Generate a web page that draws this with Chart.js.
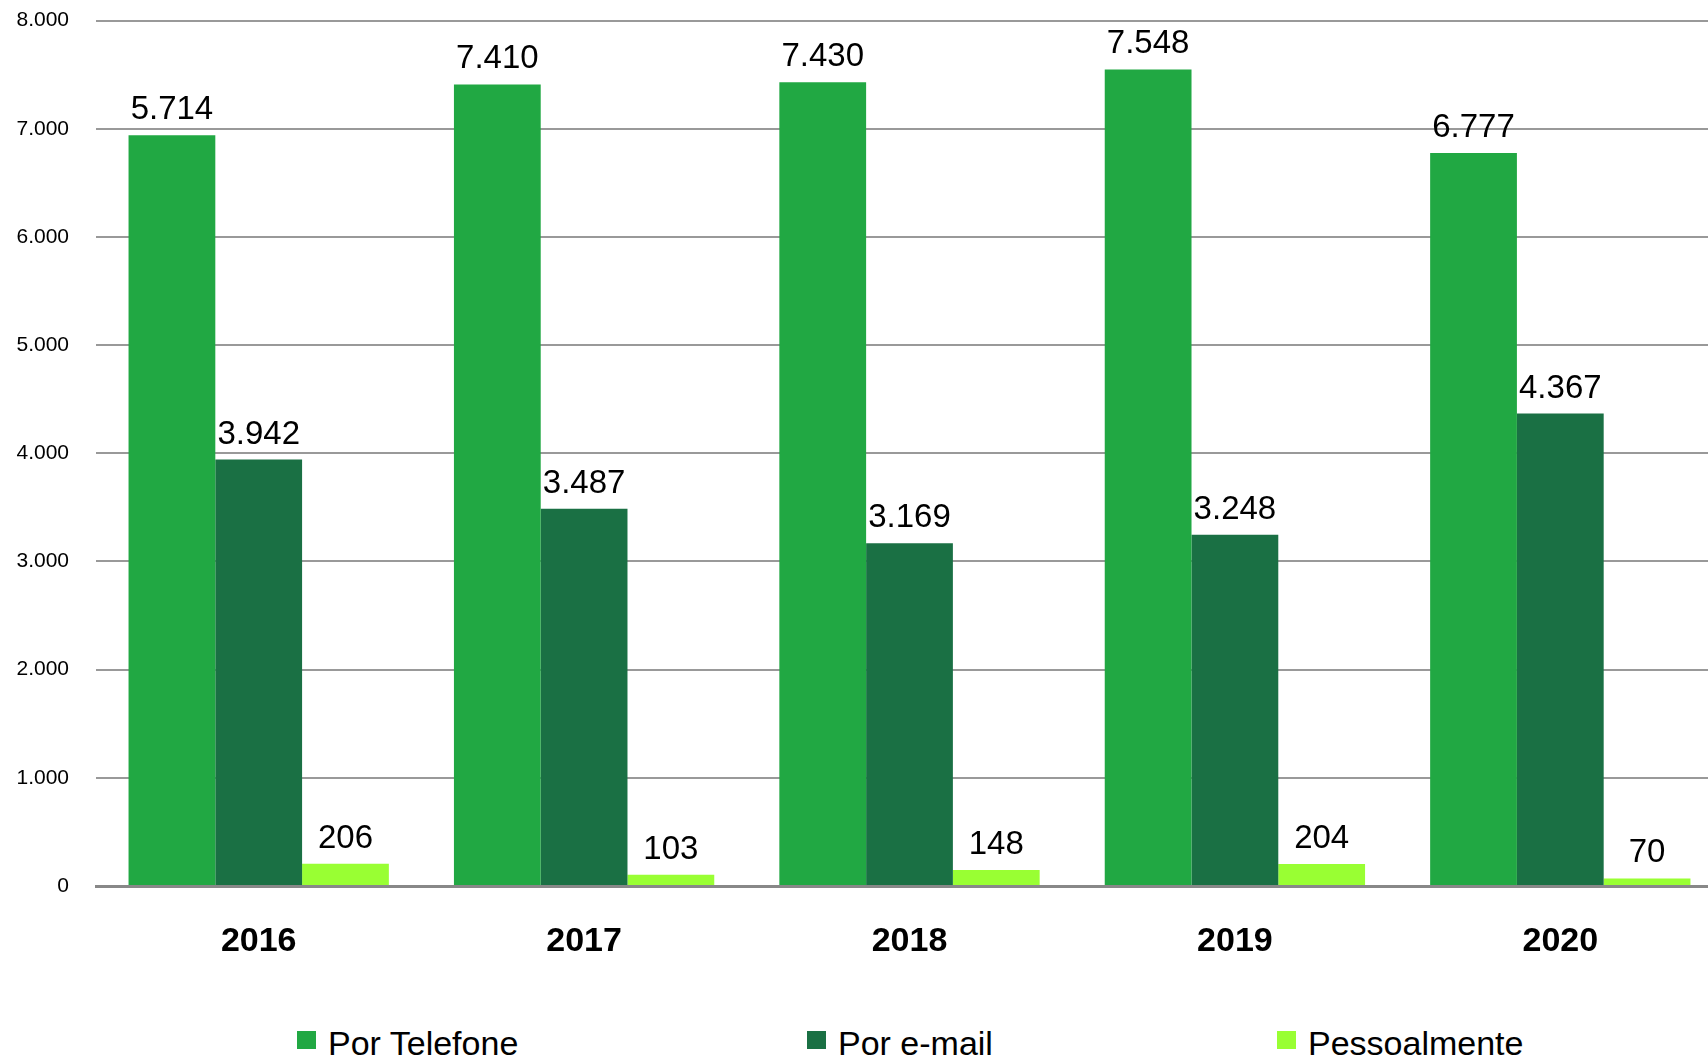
<!DOCTYPE html>
<html>
<head>
<meta charset="utf-8">
<script src="https://cdn.jsdelivr.net/npm/chart.js@4"></script>
<style>
    html, body { margin: 0; padding: 0; overflow: hidden; background: #fff; }
    body { width: 1708px; height: 1061px; position: relative; font-family: "Liberation Sans", Arial, sans-serif; }
    #wrap { position: absolute; left: 0; top: -19px; width: 1723px; height: 1019px; }
    .leg { position: absolute; top: 1025px; font-size: 34px; line-height: 36px; color: #000; white-space: nowrap; }
    .leg i { position: absolute; left: -31px; top: 6px; width: 19px; height: 18px; }
</style>
</head>
<body>
<div id="wrap"><canvas id="chart"></canvas></div>
<div class="leg" style="left:328px"><i style="background:#21a843"></i>Por Telefone</div>
<div class="leg" style="left:838px"><i style="background:#1a7044"></i>Por e-mail</div>
<div class="leg" style="left:1308px"><i style="background:#99ff33"></i>Pessoalmente</div>
<script>
// data
const years = ['2016', '2017', '2018', '2019', '2020'];
const telefone = [6940, 7410, 7430, 7548, 6777];
const telefoneLabels = ['5.714', '7.410', '7.430', '7.548', '6.777'];
const email = [3942, 3487, 3169, 3248, 4367];
const pessoal = [206, 103, 148, 204, 70];

const fmt = v => String(v).replace(/\B(?=(\d{3})+(?!\d))/g, '.');

// labels above bars
const valueLabels = {
    id: 'valueLabels',
    afterDatasetsDraw(chart) {
        const ctx = chart.ctx;
        ctx.save();
        ctx.font = '33px "Liberation Sans", Arial, sans-serif';
        ctx.fillStyle = '#000';
        ctx.textAlign = 'center';
        ctx.textBaseline = 'alphabetic';
        chart.data.datasets.forEach((ds, i) => {
            chart.getDatasetMeta(i).data.forEach((bar, j) => {
                const txt = ds.labelsText ? ds.labelsText[j] : fmt(ds.data[j]);
                ctx.fillText(txt, bar.x, bar.y - 16);
            });
        });
        ctx.restore();
    }
};

new Chart(document.getElementById('chart'), {
    type: 'bar',
    data: {
        labels: years,
        datasets: [
            { label: 'Por Telefone', data: telefone, labelsText: telefoneLabels, backgroundColor: '#21a843' },
            { label: 'Por e-mail', data: email, backgroundColor: '#1a7044' },
            { label: 'Pessoalmente', data: pessoal, backgroundColor: '#99ff33' }
        ]
    },
    options: {
        responsive: true,
        maintainAspectRatio: false,
        animation: false,
        categoryPercentage: 0.8,
        barPercentage: 1.0,
        layout: { autoPadding: false, padding: { top: 1, left: 0, right: 0, bottom: 0 } },
        scales: {
            x: {
                grid: { display: false, drawTicks: false },
                border: { display: true, color: '#888', width: 3 },
                ticks: {
                    padding: 35,
                    color: '#000',
                    font: { family: '"Liberation Sans", Arial, sans-serif', size: 34, weight: 'bold' }
                },
                afterFit: s => { s.height = 114; }
            },
            y: {
                min: 0,
                max: 8000,
                grid: { color: '#999', lineWidth: 2, drawTicks: false },
                border: { display: false },
                ticks: {
                    stepSize: 1000,
                    padding: 27,
                    color: '#000',
                    font: { family: '"Liberation Sans", Arial, sans-serif', size: 21 },
                    callback: v => fmt(v)
                },
                afterFit: s => { s.width = 96; }
            }
        },
        plugins: {
            legend: { display: false },
            tooltip: { enabled: false }
        }
    },
    plugins: [valueLabels]
});
</script>
</body>
</html>
